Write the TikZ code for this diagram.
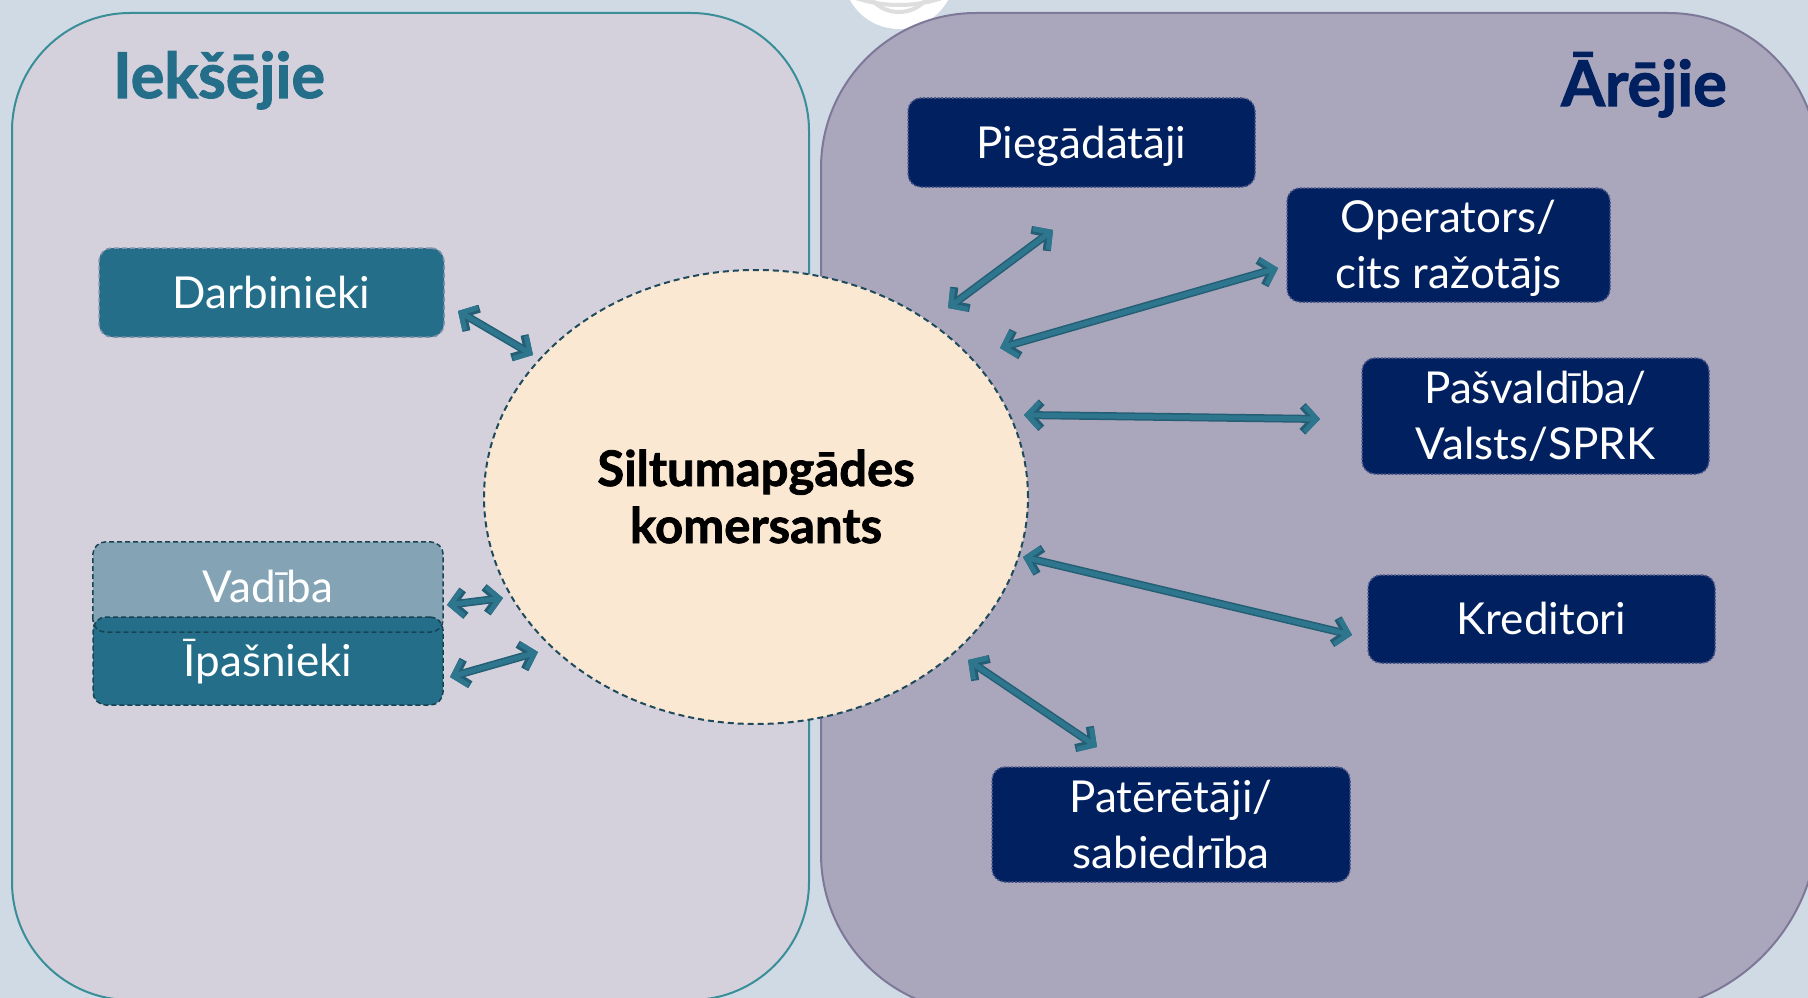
\documentclass[tikz,border=0pt]{standalone}
\usepackage{fontspec}
\setmainfont{Lato}
\newfontfamily\heavyfont{Lato}[BoldFeatures={FakeBold=1.6}]
\usetikzlibrary{arrows.meta,shapes.geometric}
\definecolor{bgc}{HTML}{CFDAE5}
\definecolor{leftfill}{HTML}{D4D1DD}
\definecolor{leftedge}{HTML}{3A8E98}
\definecolor{rightfill}{HTML}{AAA6BC}
\definecolor{rightedge}{HTML}{7E7898}
\definecolor{tealc}{HTML}{246E89}
\definecolor{lightteal}{HTML}{84A4B6}
\definecolor{navyc}{HTML}{00205F}
\definecolor{navyedge}{HTML}{4A5688}
\definecolor{peach}{HTML}{FAE8D2}
\definecolor{ringc}{HTML}{DEDEDE}
\definecolor{arrowc}{HTML}{2D768E}
\definecolor{arrowrim}{HTML}{245E74}
\definecolor{ellipseedge}{HTML}{1E4A5C}
\begin{document}
\begin{tikzpicture}[x=1pt,y=-1pt,
  boxbase/.style={rectangle, rounded corners=13pt, inner sep=0pt, align=center,
    text=white, font=\fontsize{44}{56}\selectfont, text depth=0pt},
  oneline/.style={text height=31.5pt},
  twoline/.style={text height=87.5pt},
  navybox/.style={boxbase, fill=navyc, draw=navyedge, line width=1.5pt,
    dash pattern=on 2pt off 1.6pt},
  tealbox/.style={boxbase, fill=tealc, draw=#1, line width=1.5pt,
    dash pattern=on 5pt off 3pt},
  barbs/.style={line cap=round, line join=round,
    {Straight Barb[length=12pt,width=26pt]}-{Straight Barb[length=12pt,width=26pt]}},
  linkrim/.style={barbs, draw=arrowrim, line width=8pt},
  linkcore/.style={barbs, draw=arrowc, line width=5pt},
  heading/.style={anchor=base, font=\heavyfont\bfseries\fontsize{63}{63}\selectfont, inner sep=0pt}
]
\useasboundingbox (0,0) rectangle (1808,998);
\clip (0,0) rectangle (1808,998);
\fill[bgc] (0,0) rectangle (1808,998);

% emblem at the top edge
\fill[white] (899,-27) circle[radius=56];
\begin{scope}
  \clip (899,-27) circle[radius=56];
  \draw[ringc, line width=4pt] (899,-130) circle[radius=135];
  \draw[ringc, line width=4pt] (899,-24) circle[radius=36];
\end{scope}

% internal panel
\draw[fill=leftfill, draw=leftedge, line width=2pt, rounded corners=118pt]
  (12,13) rectangle (809,1000);

% external panel
\draw[fill=rightfill, draw=rightedge, line width=2pt]
  (821,168) .. controls (821,82.4) and (890.4,13) .. (976,13)
  -- (1668,13) .. controls (1750.8,13) and (1818,80.2) .. (1818,163)
  -- (1818,822) .. controls (1818,926.9) and (1732.9,1012) .. (1628,1012)
  -- (979,1012) .. controls (891.8,1012) and (821,941.2) .. (821,854)
  -- cycle;

% headings
\node[heading, text=tealc] (hin) at (219,98) {Iekšējie};
\node[heading, text=navyc] (hout) at (1644,106) {Ārējie};

% central company
\node[ellipse, fill=peach, draw=ellipseedge, line width=2pt, dash pattern=on 6pt off 4pt,
  minimum width=544pt, minimum height=454pt, inner sep=0pt, align=center,
  text height=92pt, text depth=0pt,
  font=\heavyfont\bfseries\fontsize{49}{57}\selectfont] (firm) at (756,497)
  {Siltumapgādes\\komersants};

% internal stakeholders
\node[tealbox=lightteal!60!rightedge, oneline, minimum width=345pt, minimum height=89pt]
  (darb) at (271.5,292.5) {Darbinieki};
\node[boxbase, fill=lightteal, minimum width=350pt, minimum height=90pt]
  (vad) at (268,587) {};
\node[tealbox=tealc!60!black, oneline, minimum width=350pt, minimum height=88pt]
  (ipa) at (268,661) {Īpašnieki};
\draw[rounded corners=13pt, draw=tealc!60!black, line width=1.5pt, dash pattern=on 5pt off 3pt]
  (vad.south west) rectangle (vad.north east);
\node[boxbase, oneline, inner sep=0pt] at (vad.center) {Vadība};

% external stakeholders
\node[navybox, oneline, minimum width=347pt, minimum height=89pt] (pieg) at (1081.5,142.5) {Piegādātāji};
\node[navybox, twoline, minimum width=323pt, minimum height=114pt] (oper) at (1448.5,245) {Operators/\\cits ražotājs};
\node[navybox, twoline, minimum width=347pt, minimum height=116pt] (pasv) at (1535.5,416) {Pašvaldība/\\Valsts/SPRK};
\node[navybox, oneline, minimum width=347pt, minimum height=88pt] (kred) at (1541.5,619) {Kreditori};
\node[navybox, twoline, minimum width=358pt, minimum height=115pt] (pat) at (1171,824.5) {Patērētāji/\\sabiedrība};

% arrow ends
\coordinate (darbA) at (458,311);   \coordinate (darbB) at (533,355);
\coordinate (vadA) at (447,605);    \coordinate (vadB) at (503,598);
\coordinate (ipaA) at (450,677);    \coordinate (ipaB) at (538,652);
\coordinate (piegA) at (948,308);   \coordinate (piegB) at (1053,230);
\coordinate (operA) at (1000,348);  \coordinate (operB) at (1278,268);
\coordinate (pasvA) at (1024,415);  \coordinate (pasvB) at (1320,419);
\coordinate (kredA) at (1023,557);  \coordinate (kredB) at (1352,635);
\coordinate (patA) at (968,660);    \coordinate (patB) at (1097,747);

% two-way links: darker rim first, lighter core on top
\foreach \s in {darb,vad,ipa,pieg,oper,pasv,kred,pat}{
  \path[linkrim] (\s A) -- (\s B);
}
\foreach \s in {darb,vad,ipa,pieg,oper,pasv,kred,pat}{
  \path[linkcore] (\s A) -- (\s B);
}
\end{tikzpicture}
\end{document}
